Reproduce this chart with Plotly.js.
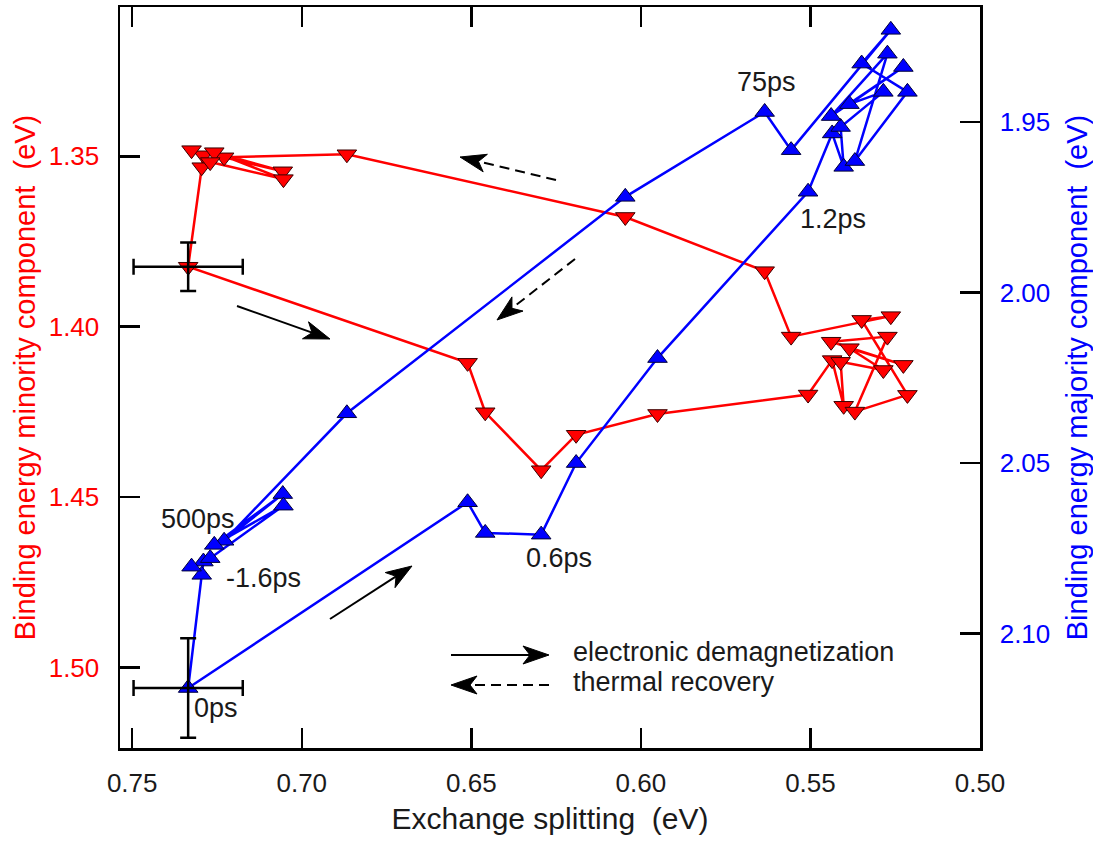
<!DOCTYPE html>
<html>
<head>
<meta charset="utf-8">
<script src="https://cdn.plot.ly/plotly-3.0.1.min.js"></script>
<style>html,body{margin:0;padding:0;background:#fff;}#chart{width:1093px;height:842px;}</style>
</head>
<body>
<div id="chart"></div>
<script>
// Exchange splitting (eV), shared by both components, in time order
const exchangeSplitting = [0.7290, 0.7295, 0.7335, 0.6511, 0.6459, 0.6294, 0.6191, 0.5951, 0.5507,
  0.5436, 0.5402, 0.5411, 0.5285, 0.5385, 0.5226, 0.5439, 0.5273, 0.5369, 0.5214, 0.5349, 0.5263,
  0.5557, 0.5635, 0.6046, 0.6867, 0.7229, 0.7056, 0.7258, 0.7054, 0.7270, 0.7325];
// Binding energy minority component (eV), left axis
const minorityBE = [1.3497, 1.3532, 1.3824, 1.4106, 1.4251, 1.4421, 1.4317, 1.4256, 1.4199,
  1.4098, 1.4232, 1.4103, 1.4127, 1.4063, 1.4112, 1.4044, 1.4029, 1.4249, 1.4200, 1.3980, 1.3969,
  1.4029, 1.3837, 1.3678, 1.3494, 1.3503, 1.3544, 1.3488, 1.3567, 1.3517, 1.3482];
// Binding energy majority component (eV), right axis
const majorityBE = [2.0789, 2.0828, 2.1160, 2.0615, 2.0705, 2.0710, 2.0500, 2.0192, 1.9704,
  1.9533, 1.9631, 1.9514, 1.9411, 1.9447, 1.9338, 1.9482, 1.9299, 1.9614, 1.9411, 1.9328, 1.9229,
  1.9582, 1.9470, 1.9719, 2.0354, 2.0728, 2.0591, 2.0740, 2.0625, 2.0779, 2.0804];
// Error bars at time zero
const zeroIndex = 2;
const errExchange = 0.0161;
const errMinority = 0.0071;
const errMajority = 0.0146;
// Delay labels: [index into the series, text]
const delayLabels = [[1, '-1.6ps'], [2, '0ps'], [5, '0.6ps'], [8, '1.2ps'], [22, '75ps'], [30, '500ps']];
const legendTexts = ['electronic demagnetization', 'thermal recovery'];

// ---- layout geometry (pixels) ----
const W = 1093, H = 842;
const L = 120, R = 113, T = 7, B = 94;
const PW = W - L - R, PH = H - T - B;
const px = x => (x - L) / PW;
const py = y => (H - B - y) / PH;

const FONT = 'Liberation Sans, Arial, Helvetica, sans-serif';

function arrow(x0, y0, x1, y1, dashed) {
  const dx = x1 - x0, dy = y1 - y0, len = Math.hypot(dx, dy);
  const ux = dx / len, uy = dy / len, nx = -uy, ny = ux;
  const HL = 26, HW = 9, NOTCH = 7;
  const bx = x1 - ux * HL, by = y1 - uy * HL;
  const nbx = x1 - ux * (HL - NOTCH), nby = y1 - uy * (HL - NOTCH);
  const pts = [[x1, y1], [bx + nx * HW, by + ny * HW], [nbx, nby], [bx - nx * HW, by - ny * HW]];
  const path = 'M' + pts.map(p => px(p[0]).toFixed(5) + ',' + py(p[1]).toFixed(5)).join(' L') + ' Z';
  return [
    {type: 'line', xref: 'paper', yref: 'paper', x0: px(x0), y0: py(y0), x1: px(nbx), y1: py(nby),
     line: {color: 'black', width: 2, dash: dashed ? '10px,6px' : 'solid'}},
    {type: 'path', xref: 'paper', yref: 'paper', path: path, fillcolor: 'black', line: {color: 'black', width: 1}}
  ];
}

const shapes = [].concat(
  arrow(237, 306, 330, 339, false),
  arrow(330, 619, 412, 566, false),
  arrow(556, 180, 460, 157, true),
  arrow(575, 259, 497, 320, true),
  arrow(451, 655, 549, 655, false),
  arrow(549, 685, 451, 685, true)
);

// label pixel offsets relative to their point (style only)
const labelOffsets = {'-1.6ps': [62, 3, 'center'], '0ps': [28, 20, 'center'], '0.6ps': [18, 23, 'center'],
  '1.2ps': [25, 27, 'center'], '75ps': [2, -30, 'center'], '500ps': [6, -48, 'center']};

const annotations = [];
delayLabels.forEach(([i, t]) => {
  const o = labelOffsets[t];
  annotations.push({x: exchangeSplitting[i], y: majorityBE[i], xref: 'x', yref: 'y2', text: t,
    showarrow: false, xshift: o[0], yshift: -o[1], xanchor: o[2], yanchor: 'middle',
    font: {family: FONT, size: 27, color: '#1a1a1a'}});
});
annotations.push({x: px(571), y: py(652), xref: 'paper', yref: 'paper', text: legendTexts[0], showarrow: false,
  xanchor: 'left', yanchor: 'middle', font: {family: FONT, size: 27, color: '#1a1a1a'}});
annotations.push({x: px(571), y: py(682), xref: 'paper', yref: 'paper', text: legendTexts[1], showarrow: false,
  xanchor: 'left', yanchor: 'middle', font: {family: FONT, size: 27, color: '#1a1a1a'}});

const traces = [
  {x: exchangeSplitting, y: minorityBE, yaxis: 'y', mode: 'lines+markers', type: 'scatter',
   line: {color: '#ff0000', width: 2.5},
   marker: {symbol: 'triangle-down', size: 17, color: '#ff0000', line: {color: '#3a0000', width: 1}}},
  {x: exchangeSplitting, y: majorityBE, yaxis: 'y2', mode: 'lines+markers', type: 'scatter',
   line: {color: '#0000ff', width: 2.5},
   marker: {symbol: 'triangle-up', size: 17, color: '#0000ff', line: {color: '#00003a', width: 1}}},
  {x: [exchangeSplitting[zeroIndex]], y: [minorityBE[zeroIndex]], yaxis: 'y', mode: 'markers', type: 'scatter',
   marker: {size: 1, opacity: 0},
   error_x: {type: 'constant', value: errExchange, color: 'black', thickness: 2.5, width: 8},
   error_y: {type: 'constant', value: errMinority, color: 'black', thickness: 2.5, width: 8}},
  {x: [exchangeSplitting[zeroIndex]], y: [majorityBE[zeroIndex]], yaxis: 'y2', mode: 'markers', type: 'scatter',
   marker: {size: 1, opacity: 0},
   error_x: {type: 'constant', value: errExchange, color: 'black', thickness: 2.5, width: 8},
   error_y: {type: 'constant', value: errMajority, color: 'black', thickness: 2.5, width: 8}}
];

const layout = {
  width: W, height: H,
  margin: {l: L, r: R, t: T, b: B, pad: 0},
  paper_bgcolor: 'white', plot_bgcolor: 'white',
  showlegend: false,
  font: {family: FONT},
  xaxis: {range: [0.7536, 0.50], tickvals: [0.75, 0.70, 0.65, 0.60, 0.55, 0.50], tickformat: '.2f',
    showgrid: false, zeroline: false, showline: true, linecolor: 'black', linewidth: 2.5, mirror: 'ticks',
    ticks: 'inside', ticklen: 20, tickwidth: 2.5, tickcolor: 'black', ticklabelstandoff: 10,
    tickfont: {family: FONT, size: 26, color: '#1a1a1a'},
    title: {text: 'Exchange splitting  (eV)', font: {family: FONT, size: 30, color: '#1a1a1a'}, standoff: 12}},
  yaxis: {range: [1.5236, 1.3062], tickvals: [1.35, 1.40, 1.45, 1.50], tickformat: '.2f',
    showgrid: false, zeroline: false, showline: true, linecolor: 'black', linewidth: 2.5,
    ticks: 'inside', ticklen: 20, tickwidth: 2.5, tickcolor: 'black', ticklabelstandoff: 13,
    tickfont: {family: FONT, size: 26, color: '#ff0000'},
    title: {text: 'Binding energy minority component  (eV)', font: {family: FONT, size: 29, color: '#ff0000'}, standoff: 5}},
  yaxis2: {range: [2.1336, 1.9162], tickvals: [1.95, 2.00, 2.05, 2.10], tickformat: '.2f', overlaying: 'y', side: 'right',
    showgrid: false, zeroline: false, showline: true, linecolor: 'black', linewidth: 2.5,
    ticks: 'inside', ticklen: 20, tickwidth: 2.5, tickcolor: 'black', ticklabelstandoff: 12,
    tickfont: {family: FONT, size: 26, color: '#0000ff'},
    title: {text: 'Binding energy majority component  (eV)', font: {family: FONT, size: 29, color: '#0000ff'}, standoff: 18}},
  shapes: shapes,
  annotations: annotations
};

Plotly.newPlot('chart', traces, layout, {displayModeBar: false, staticPlot: true});
</script>
</body>
</html>
